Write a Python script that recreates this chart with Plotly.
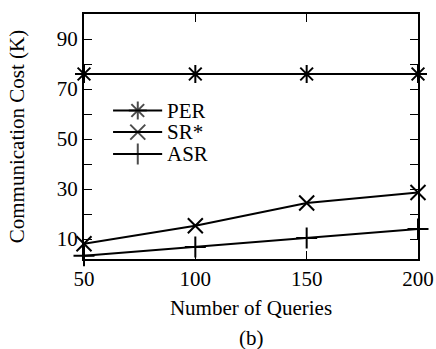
import plotly.graph_objects as go

queries = [50, 100, 150, 200]
per = [76, 76, 76, 76]
sr = [8.1, 15.3, 24.4, 28.6]
asr = [3.3, 6.8, 10.4, 14.0]

names = ["PER", "SR*", "ASR"]
symbols = ["asterisk-open", "x-thin-open", "cross-thin-open"]
values = [per, sr, asr]

# legend placement (paper-fraction layout of the key, not data)
leg_x = [0.087, 0.161, 0.234]
leg_y = [0.606, 0.518, 0.429]

font = "Liberation Serif"
fs = 21
fig = go.Figure()
for name, ys, sym in zip(names, values, symbols):
    fig.add_trace(go.Scatter(x=queries, y=ys, name=name, mode="lines+markers",
                             line=dict(color="black", width=2),
                             marker=dict(symbol=sym, size=15, color="black",
                                         line=dict(color="black", width=2)),
                             cliponaxis=False, showlegend=False))

annotations = []
for name, sym, ly in zip(names, symbols, leg_y):
    fig.add_trace(go.Scatter(x=leg_x, y=[ly] * 3, mode="lines+markers", xaxis="x2", yaxis="y2",
                             line=dict(color="black", width=2),
                             marker=dict(symbol=sym, size=[0, 15, 0], color="black",
                                         line=dict(color="black", width=2)),
                             showlegend=False, hoverinfo="skip", cliponaxis=False))
    annotations.append(dict(text=name, x=leg_x[-1] + 0.008, y=ly, xref="paper", yref="paper",
                            xanchor="left", yanchor="middle", showarrow=False, height=20,
                            font=dict(family=font, size=fs, color="black")))

annotations.append(dict(text="(b)", x=0.5, y=-0.322, xref="paper", yref="paper",
                        showarrow=False, yanchor="middle",
                        font=dict(family=font, size=fs, color="black")))

axis_common = dict(showline=True, linecolor="black", linewidth=2, mirror="allticks",
                   ticks="inside", ticklen=8, tickwidth=1.2, tickcolor="black",
                   showgrid=False, zeroline=False, automargin=False,
                   tickfont=dict(family=font, size=fs, color="black"))
fig.update_xaxes(range=[50, 200], tickvals=[50, 100, 150, 200],
                 title=dict(text="Number of Queries", font=dict(family=font, size=fs, color="black"), standoff=10),
                 **axis_common)
fig.update_yaxes(range=[2, 100], tickvals=[10, 30, 50, 70, 90],
                 minor=dict(tickvals=[20, 40, 60, 80], ticks="inside", ticklen=8, tickcolor="black", tickwidth=1.2),
                 title=dict(text="Communication Cost (K)", font=dict(family=font, size=fs, color="black"), standoff=26),
                 **axis_common)
fig.update_layout(width=436, height=349, margin=dict(l=84, r=18, t=14, b=90, autoexpand=False),
                  plot_bgcolor="white", paper_bgcolor="white",
                  font=dict(family=font, color="black"),
                  xaxis2=dict(range=[0, 1], overlaying="x", visible=False, domain=[0, 1]),
                  yaxis2=dict(range=[0, 1], overlaying="y", visible=False),
                  annotations=annotations)
fig.write_html("out.html")
